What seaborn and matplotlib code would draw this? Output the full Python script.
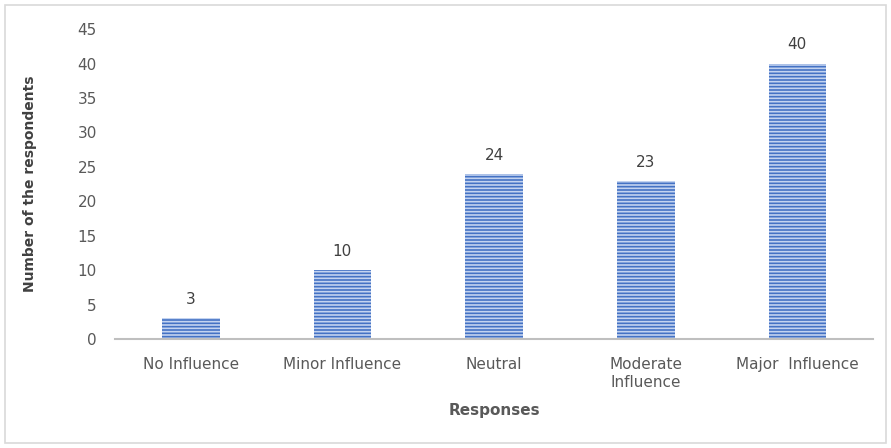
import matplotlib
matplotlib.use("Agg")
import matplotlib.pyplot as plt
import seaborn as sns
import pandas as pd
from matplotlib.patches import Rectangle

categories = ["No Influence", "Minor Influence", "Neutral", "Moderate\nInfluence", "Major  Influence"]
respondents = [3, 10, 24, 23, 40]
y_ticks = [0, 5, 10, 15, 20, 25, 30, 35, 40, 45]

sns.set_theme(style="white")
plt.rcParams["font.family"] = ["DejaVu Sans"]
plt.rcParams["hatch.linewidth"] = 1.2

df = pd.DataFrame({"Responses": categories, "Count": respondents})

fig = plt.figure(figsize=(8.91, 4.48), dpi=100)
ax = fig.add_axes([0.129, 0.243, 0.851, 0.692])

sns.barplot(data=df, x="Responses", y="Count", ax=ax, color="#4472C4",
            width=0.38, saturation=1)
for bar in ax.patches:
    bar.set_hatch("-----")
    bar.set_edgecolor("#c3d3f0")
    bar.set_linewidth(0)

for bar, v in zip(ax.patches, respondents):
    ax.annotate(str(v), (bar.get_x() + bar.get_width() / 2, v),
                xytext=(0, 8), textcoords="offset points",
                ha="center", va="bottom", fontsize=11, color="#404040")

ax.set_ylim(0, 45)
ax.set_yticks(y_ticks)
ax.set_xlim(-0.5, len(categories) - 0.5)
ax.tick_params(axis="both", labelsize=11, colors="#595959", length=0)
ax.tick_params(axis="x", pad=13)
ax.tick_params(axis="y", pad=13)
for s in ["top", "right", "left"]:
    ax.spines[s].set_visible(False)
ax.spines["bottom"].set_color("#bfbfbf")
ax.spines["bottom"].set_linewidth(1.5)

ax.set_xlabel("Responses", fontsize=11, fontweight="bold", color="#595959", labelpad=10)
ax.set_ylabel("Number of the respondents", fontsize=10, fontweight="bold",
              color="#404040", labelpad=29)

fig.patches.append(Rectangle((5 / 891, 5 / 448), 881 / 891, 438 / 448,
                             transform=fig.transFigure, fill=False,
                             edgecolor="#d9d9d9", linewidth=1.2))

fig.savefig("out.png", dpi=100)
